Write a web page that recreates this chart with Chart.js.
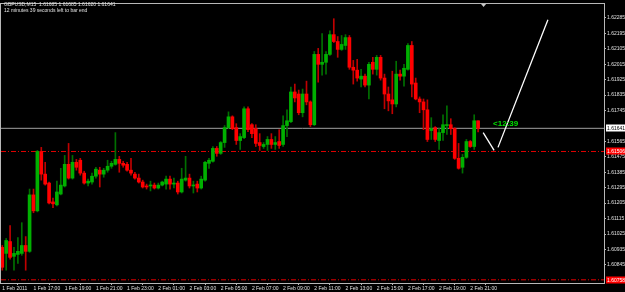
<!DOCTYPE html>
<html>
<head>
<meta charset="utf-8">
<script src="https://cdn.jsdelivr.net/npm/chart.js@4/dist/chart.umd.min.js"></script>
<style>
html, body { margin: 0; padding: 0; background: #000; overflow: hidden; }
canvas { display: block; }
</style>
</head>
<body>
<canvas id="chart" width="625" height="292"></canvas>
<script>
// GBPUSD M15, 1 Feb 2011 15:00 .. 2 Feb 2011 21:30
const opens = [
    1.60947, 1.60912, 1.60981, 1.60895, 1.60906, 1.60912, 1.60958, 1.60924, 1.61253, 1.61160,
    1.61506, 1.61374, 1.61322, 1.61212, 1.61195, 1.61258, 1.61305, 1.61431, 1.61351, 1.61443,
    1.61455, 1.61380, 1.61322, 1.61328, 1.61362, 1.61397, 1.61374, 1.61397, 1.61420, 1.61431,
    1.61460, 1.61437, 1.61431, 1.61397, 1.61374, 1.61351, 1.61328, 1.61305, 1.61305, 1.61310,
    1.61293, 1.61310, 1.61316, 1.61345, 1.61316, 1.61322, 1.61270, 1.61339, 1.61351, 1.61305,
    1.61316, 1.61293, 1.61339, 1.61437, 1.61449, 1.61524, 1.61495, 1.61558, 1.61645, 1.61708,
    1.61645, 1.61570, 1.61587, 1.61755, 1.61662, 1.61639, 1.61558, 1.61535, 1.61547, 1.61576,
    1.61547, 1.61564, 1.61547, 1.61657, 1.61680, 1.61853, 1.61841, 1.61732, 1.61841, 1.61795,
    1.61662, 1.62072, 1.62014, 1.62026, 1.62072, 1.62187, 1.62147, 1.62101, 1.62124, 1.62170,
    1.61997, 1.61980, 1.61928, 1.61945, 1.61893, 1.62026, 1.61985, 1.62055, 1.61934, 1.61841,
    1.61807, 1.61783, 1.61957, 1.61945, 1.61985, 1.62124, 1.61905, 1.61812, 1.61795, 1.61749,
    1.61628, 1.61645, 1.61570, 1.61616, 1.61657, 1.61662, 1.61639, 1.61466, 1.61414, 1.61472,
    1.61564, 1.61535, 1.61685
];
const highs = [
    1.60958, 1.60999, 1.61074, 1.60947, 1.61004, 1.61091, 1.61010, 1.61287, 1.61287, 1.61512,
    1.61530, 1.61443, 1.61328, 1.61235, 1.61333, 1.61408, 1.61483, 1.61553, 1.61483, 1.61460,
    1.61466, 1.61391, 1.61345, 1.61380, 1.61414, 1.61414, 1.61408, 1.61455, 1.61449, 1.61616,
    1.61478, 1.61449, 1.61443, 1.61466, 1.61385, 1.61374, 1.61339, 1.61316, 1.61333, 1.61322,
    1.61322, 1.61333, 1.61362, 1.61362, 1.61351, 1.61333, 1.61408, 1.61478, 1.61374, 1.61333,
    1.61333, 1.61362, 1.61449, 1.61466, 1.61535, 1.61535, 1.61564, 1.61657, 1.61737, 1.61714,
    1.61668, 1.61610, 1.61766, 1.61766, 1.61668, 1.61662, 1.61610, 1.61558, 1.61593, 1.61610,
    1.61593, 1.61633, 1.61714, 1.61749, 1.61882, 1.61899, 1.61864, 1.61870, 1.61916, 1.61801,
    1.62089, 1.62107, 1.62193, 1.62089, 1.62210, 1.62280, 1.62176, 1.62182, 1.62187, 1.62182,
    1.62037, 1.62043, 1.61985, 1.61957, 1.62026, 1.62055, 1.62066, 1.62066, 1.61957, 1.61882,
    1.61974, 1.62032, 1.61980, 1.62014, 1.62135, 1.62147, 1.61934, 1.61824, 1.61812, 1.61807,
    1.61703, 1.61651, 1.61639, 1.61720, 1.61772, 1.61697, 1.61645, 1.61553, 1.61489, 1.61576,
    1.61570, 1.61720, 1.61685
];
const lows = [
    1.60814, 1.60814, 1.60878, 1.60814, 1.60854, 1.60901, 1.60814, 1.60918, 1.61149, 1.61154,
    1.61339, 1.61310, 1.61201, 1.61178, 1.61189, 1.61253, 1.61299, 1.61345, 1.61345, 1.61397,
    1.61368, 1.61316, 1.61305, 1.61316, 1.61351, 1.61299, 1.61356, 1.61385, 1.61408, 1.61426,
    1.61385, 1.61414, 1.61391, 1.61368, 1.61345, 1.61322, 1.61293, 1.61287, 1.61276, 1.61287,
    1.61287, 1.61305, 1.61287, 1.61287, 1.61293, 1.61258, 1.61264, 1.61333, 1.61293, 1.61264,
    1.61270, 1.61287, 1.61333, 1.61408, 1.61443, 1.61478, 1.61489, 1.61530, 1.61639, 1.61633,
    1.61547, 1.61518, 1.61581, 1.61622, 1.61587, 1.61535, 1.61512, 1.61524, 1.61512, 1.61524,
    1.61518, 1.61524, 1.61535, 1.61593, 1.61674, 1.61795, 1.61720, 1.61708, 1.61778, 1.61651,
    1.61657, 1.61910, 1.61951, 1.61957, 1.62066, 1.62141, 1.62055, 1.62095, 1.62101, 1.61985,
    1.61899, 1.61916, 1.61882, 1.61882, 1.61812, 1.61957, 1.61951, 1.61922, 1.61755, 1.61743,
    1.61726, 1.61766, 1.61922, 1.61887, 1.61980, 1.61824, 1.61807, 1.61732, 1.61633, 1.61564,
    1.61576, 1.61564, 1.61518, 1.61570, 1.61605, 1.61605, 1.61460, 1.61403, 1.61380, 1.61466,
    1.61530, 1.61518, 1.61620
];
const closes = [
    1.60831, 1.60987, 1.60889, 1.60912, 1.60924, 1.60958, 1.60924, 1.61253, 1.61160, 1.61506,
    1.61374, 1.61316, 1.61206, 1.61201, 1.61270, 1.61310, 1.61431, 1.61351, 1.61443, 1.61414,
    1.61380, 1.61322, 1.61333, 1.61362, 1.61403, 1.61374, 1.61397, 1.61420, 1.61437, 1.61460,
    1.61437, 1.61426, 1.61397, 1.61380, 1.61351, 1.61328, 1.61299, 1.61299, 1.61310, 1.61293,
    1.61310, 1.61328, 1.61345, 1.61316, 1.61322, 1.61270, 1.61345, 1.61351, 1.61305, 1.61310,
    1.61293, 1.61345, 1.61443, 1.61455, 1.61524, 1.61495, 1.61558, 1.61645, 1.61708, 1.61639,
    1.61570, 1.61593, 1.61755, 1.61633, 1.61610, 1.61553, 1.61541, 1.61547, 1.61576, 1.61547,
    1.61558, 1.61541, 1.61657, 1.61685, 1.61853, 1.61818, 1.61732, 1.61841, 1.61795, 1.61662,
    1.62072, 1.62014, 1.62026, 1.62072, 1.62187, 1.62147, 1.62101, 1.62130, 1.62170, 1.61997,
    1.61980, 1.61934, 1.61945, 1.61893, 1.62014, 1.61985, 1.62055, 1.61934, 1.61841, 1.61801,
    1.61783, 1.61957, 1.61945, 1.61991, 1.62124, 1.61899, 1.61812, 1.61795, 1.61749, 1.61576,
    1.61639, 1.61576, 1.61616, 1.61662, 1.61662, 1.61639, 1.61466, 1.61408, 1.61472, 1.61564,
    1.61535, 1.61685, 1.61641
];

const timeTickBars = [0, 8, 16, 24, 32, 40, 48, 56, 64, 72, 80, 88, 96, 104, 112, 120];
const timeLabels = [
    '1 Feb 2011', '1 Feb 17:00', '1 Feb 19:00', '1 Feb 21:00', '1 Feb 23:00',
    '2 Feb 01:00', '2 Feb 03:00', '2 Feb 05:00', '2 Feb 07:00', '2 Feb 09:00',
    '2 Feb 11:00', '2 Feb 13:00', '2 Feb 15:00', '2 Feb 17:00', '2 Feb 19:00', '2 Feb 21:00'
];
const priceTicks = [
    1.62285, 1.62195, 1.62105, 1.62015, 1.61925, 1.61835, 1.61745,
    1.61565, 1.61475, 1.61385, 1.61295, 1.61205, 1.61115, 1.61025, 1.60935, 1.60845
];

const bidPrice = 1.61641;
const levelPrices = [1.61506, 1.60758];
const trendLineA = [{ x: 123.3, y: 1.61616 }, { x: 126.1, y: 1.61512 }];
const trendLineB = [{ x: 127.1, y: 1.61530 }, { x: 139.9, y: 1.62274 }];

const titleLines = ['GBPUSD,M15  1.61685 1.61685 1.61620 1.61641', '12 minutes 39 seconds left to bar end'];
const countdownText = '<12:39';

const X_MIN = -0.33, X_MAX = 154.28;
const Y_MIN = 1.607394, Y_MAX = 1.623657;

const FONT = '"Liberation Sans", Arial, sans-serif';
const TEXT = '#e0e0e0';
const FRAME = '#b8b8b8';
const UP_BODY = '#00b000', UP_WICK = '#007000';
const DN_BODY = '#ff0000', DN_WICK = '#c00000';
const LEVEL_RED = '#e00000';

function isUp(i) { return closes[i] >= opens[i]; }

const mtDecor = {
    id: 'mtDecor',
    beforeDraw(chart) {
        const c = chart.ctx;
        c.save();
        c.fillStyle = '#000';
        c.fillRect(0, 0, chart.width, chart.height);
        c.restore();
    },
    afterDraw(chart) {
        const c = chart.ctx;
        const area = chart.chartArea;
        const ys = chart.scales.y;
        const xs = chart.scales.x;
        c.save();

        c.strokeStyle = FRAME;
        c.lineWidth = 1;
        c.strokeRect(area.left - 0.5, area.top - 0.5, area.right - area.left + 1, area.bottom - area.top + 1);

        // price boxes on the right axis
        const boxes = [
            { v: bidPrice, fill: '#ffffff', text: '#000000' },
            { v: levelPrices[0], fill: '#ff0000', text: '#ffffff' },
            { v: levelPrices[1], fill: '#ff0000', text: '#ffffff' }
        ];
        c.font = '5px ' + FONT;
        c.textBaseline = 'middle';
        c.textAlign = 'left';
        boxes.forEach(b => {
            const y = ys.getPixelForValue(b.v);
            c.fillStyle = b.fill;
            c.fillRect(area.right + 2, Math.round(y) - 3.5, 21, 7);
            c.fillStyle = b.text;
            c.fillText(b.v.toFixed(5), area.right + 3, y + 0.5);
        });

        // bar countdown
        c.fillStyle = '#00e000';
        c.font = 'bold 8px ' + FONT;
        c.textBaseline = 'bottom';
        c.fillText(countdownText, xs.getPixelForValue(opens.length - 1) + 15, ys.getPixelForValue(bidPrice) - 0.5);

        // title
        c.fillStyle = TEXT;
        c.font = '5px ' + FONT;
        c.textBaseline = 'top';
        c.fillText(titleLines[0], 4, 2.5);
        c.fillText(titleLines[1], 4, 8.5);

        // chart shift marker
        const sx = xs.getPixelForValue(opens.length + 0.4);
        c.fillStyle = '#c8c8c8';
        c.beginPath();
        c.moveTo(sx - 2.5, area.top);
        c.lineTo(sx + 2.5, area.top);
        c.lineTo(sx, area.top + 3);
        c.closePath();
        c.fill();

        c.restore();
    }
};

function hLine(v, color, dash) {
    return {
        type: 'line',
        data: [{ x: X_MIN, y: v }, { x: X_MAX, y: v }],
        borderColor: color,
        borderWidth: 1,
        borderDash: dash,
        pointRadius: 0,
        order: 5
    };
}

new Chart(document.getElementById('chart'), {
    type: 'bar',
    data: {
        datasets: [
            {
                type: 'bar',
                data: lows.map((l, i) => ({ x: i, y: [l, highs[i]] })),
                backgroundColor: opens.map((o, i) => isUp(i) ? UP_WICK : DN_WICK),
                barThickness: 1,
                grouped: false,
                order: 3
            },
            {
                type: 'bar',
                data: opens.map((o, i) => ({ x: i, y: [Math.min(o, closes[i]), Math.max(o, closes[i])] })),
                backgroundColor: opens.map((o, i) => isUp(i) ? UP_BODY : DN_BODY),
                barThickness: 3,
                minBarLength: 1,
                grouped: false,
                order: 2
            },
            hLine(bidPrice, '#a0a0a0', []),
            hLine(levelPrices[0], LEVEL_RED, [5, 2, 1, 2]),
            hLine(levelPrices[1], LEVEL_RED, [5, 2, 1, 2]),
            { type: 'line', data: trendLineA, borderColor: '#ffffff', borderWidth: 1.3, pointRadius: 0, order: 0 },
            { type: 'line', data: trendLineB, borderColor: '#ffffff', borderWidth: 1.3, pointRadius: 0, order: 0 }
        ]
    },
    options: {
        responsive: false,
        animation: false,
        events: [],
        devicePixelRatio: 1,
        layout: { padding: { left: 1, top: 1, right: 0, bottom: 0 } },
        plugins: { legend: { display: false }, tooltip: { enabled: false } },
        scales: {
            x: {
                type: 'linear',
                min: X_MIN,
                max: X_MAX,
                offset: false,
                afterFit: s => { s.height = 9; },
                afterBuildTicks: s => { s.ticks = timeTickBars.map(v => ({ value: v })); },
                ticks: {
                    align: 'start',
                    color: TEXT,
                    font: { size: 5, family: FONT },
                    padding: 1,
                    maxRotation: 0,
                    autoSkip: false,
                    callback: (v, k) => timeLabels[k]
                },
                grid: { drawOnChartArea: false, tickLength: 2, color: FRAME },
                border: { color: FRAME }
            },
            y: {
                position: 'right',
                min: Y_MIN,
                max: Y_MAX,
                afterFit: s => { s.width = 21; },
                afterBuildTicks: s => { s.ticks = priceTicks.map(v => ({ value: v })); },
                ticks: {
                    color: TEXT,
                    font: { size: 5, family: FONT },
                    padding: 1,
                    autoSkip: false,
                    callback: v => v.toFixed(5)
                },
                grid: { drawOnChartArea: false, tickLength: 2, color: FRAME },
                border: { color: FRAME }
            }
        }
    },
    plugins: [mtDecor]
});
</script>
</body>
</html>
